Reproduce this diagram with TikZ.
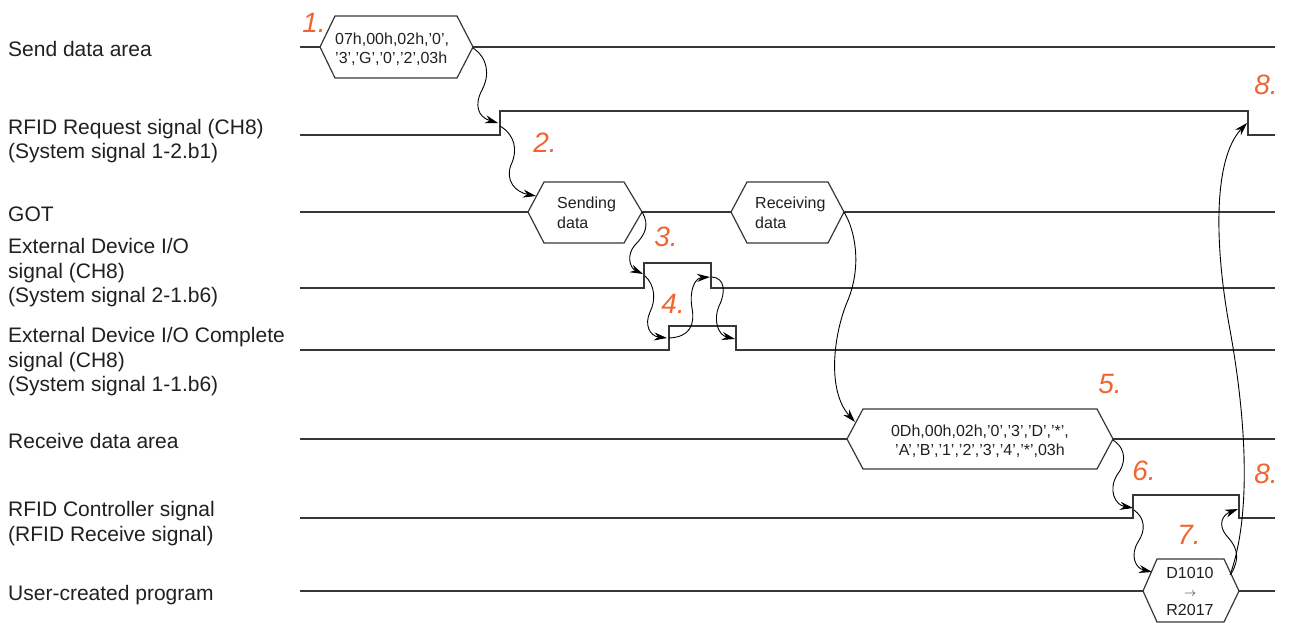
\documentclass[tikz,border=0pt]{standalone}
\usepackage{fontspec}
\setmainfont{Liberation Sans}
\usetikzlibrary{arrows.meta}
\definecolor{numorange}{RGB}{242,101,48}
\definecolor{wavecol}{RGB}{55,55,55}
\definecolor{txtcol}{RGB}{35,31,32}
\begin{document}
\begin{tikzpicture}[x=1pt,y=-1pt,
  wave/.style={draw=wavecol,line width=1.2pt,line join=miter},
  conn/.style={draw=black,line width=0.9pt,-{Stealth[length=13pt,width=8pt]}},
  lbl/.style={anchor=base west,inner sep=0pt,align=left,font=\fontsize{21}{24.5}\selectfont,text=txtcol},
  hextxt/.style={inner sep=0pt,font=\fontsize{16}{19.5}\selectfont,text=txtcol},
  stepnum/.style={anchor=base,inner sep=0pt,font=\fontsize{28}{28}\selectfont\itshape,text=numorange}]
\useasboundingbox (0,0) rectangle (1289,623);

% ---------- labels (base anchor = baseline of the last line) ----------
\node[lbl] (lsend) at (8,56.5) {Send data area};
\node[lbl] (lreq) at (8,158.5) {RFID Request signal (CH8)\\(System signal 1-2.b1)};
\node[lbl] (lgot) at (8,221.5) {GOT};
\node[lbl] (lext) at (8,302.5) {External Device I/O\\signal (CH8)\\(System signal 2-1.b6)};
\node[lbl] (lcmp) at (8,391.5) {External Device I/O Complete\\signal (CH8)\\(System signal 1-1.b6)};
\node[lbl] (lrcv) at (8,448) {Receive data area};
\node[lbl] (lctl) at (8,541) {RFID Controller signal\\(RFID Receive signal)};
\node[lbl] (lusr) at (8,600) {User-created program};

% ---------- Send data area ----------
\draw[wave] (300,47) -- (320,47);
\draw[wave] (320,47) -- (335,16) -- (457,16) -- (473,47) -- (457,78) -- (335,78) -- cycle;
\draw[wave] (473,47) -- (1275,47);
\node[hextxt,anchor=west,align=left] (hsend) at (335,49) {07h,00h,02h,'0',\\'3','G','0','2',03h};

% ---------- RFID Request ----------
\draw[wave] (300,135) -- (500,135) -- (500,111) -- (1248,111) -- (1248,135) -- (1275,135);

% ---------- GOT ----------
\draw[wave] (300,212) -- (528,212);
\draw[wave] (528,212) -- (544,182) -- (624,182) -- (642,212) -- (624,243) -- (544,243) -- cycle;
\draw[wave] (642,212) -- (731,212);
\draw[wave] (731,212) -- (747,182) -- (828,182) -- (844,212) -- (828,243) -- (747,243) -- cycle;
\draw[wave] (844,212) -- (1275,212);
\node[hextxt,anchor=west,align=left] (hsnd) at (557,213) {Sending\\data};
\node[hextxt,anchor=west,align=left] (hrcvg) at (755,213) {Receiving\\data};

% ---------- External Device I/O ----------
\draw[wave] (300,288) -- (644,288) -- (644,263) -- (711,263) -- (711,288) -- (1275,288);
% ---------- External Device I/O Complete ----------
\draw[wave] (300,350) -- (669,350) -- (669,326) -- (736,326) -- (736,350) -- (1275,350);

% ---------- Receive data area ----------
\draw[wave] (300,439) -- (847,439);
\draw[wave] (847,439) -- (863,409) -- (1097,409) -- (1113,439) -- (1097,469) -- (863,469) -- cycle;
\draw[wave] (1113,439) -- (1275,439);
\node[hextxt,align=center] (hrcv) at (980,441) {0Dh,00h,02h,'0','3','D','*',\\'A','B','1','2','3','4','*',03h};

% ---------- RFID Controller ----------
\draw[wave] (300,518) -- (1133,518) -- (1133,495) -- (1239,495) -- (1239,518) -- (1275,518);

% ---------- User-created program ----------
\draw[wave] (300,591) -- (1143,591);
\draw[wave] (1143,591) -- (1157,559) -- (1224,559) -- (1239,591) -- (1224,622) -- (1157,622) -- cycle;
\draw[wave] (1239,591) -- (1275,591);
\node[hextxt,align=center,font=\fontsize{16}{18.5}\selectfont] (husr) at (1190,591) {D1010\\{\fontsize{12}{12}\selectfont$\rightarrow$}\\R2017};

% ---------- step numbers ----------
\node[stepnum] (n1) at (314,33) {1.};
\node[stepnum] (n2) at (545,152) {2.};
\node[stepnum] (n3) at (666,246) {3.};
\node[stepnum] (n4) at (673,313) {4.};
\node[stepnum] (n5) at (1110,393) {5.};
\node[stepnum] (n6) at (1144,480) {6.};
\node[stepnum] (n7) at (1189,544) {7.};
\node[stepnum] (n8a) at (1266,95) {8.};
\node[stepnum] (n8b) at (1266,483) {8.};

% ---------- connector end points ----------
\coordinate (s1) at (473,48);   \coordinate (e1) at (498,123);
\coordinate (s2) at (500,126);  \coordinate (e2) at (536,196);
\coordinate (s3) at (642,212);  \coordinate (e3) at (643,274);
\coordinate (s4a) at (645,276); \coordinate (e4a) at (667,338);
\coordinate (s4b) at (669,338); \coordinate (e4b) at (710,277);
\coordinate (s4c) at (712,277); \coordinate (e4c) at (735,339);
\coordinate (s5) at (844,212);  \coordinate (e5) at (855,422);
\coordinate (s6) at (1113,440); \coordinate (e6) at (1133,508);
\coordinate (s7) at (1134,510); \coordinate (e7) at (1152,572);
\coordinate (s8a) at (1231,574); \coordinate (e8a) at (1238,509);
\coordinate (s8b) at (1230,575); \coordinate (e8b) at (1247,123);

% ---------- connectors ----------
\draw[conn] (s1) .. controls (488,58) and (490,75) .. (482,90) .. controls (474,105) and (478,117) .. (e1);
\draw[conn] (s2) .. controls (515,135) and (518,150) .. (511,165) .. controls (505,180) and (515,192) .. (e2);
\draw[conn] (s3) .. controls (650,225) and (645,235) .. (635,245) .. controls (626,255) and (630,268) .. (e3);
\draw[conn] (s4a) .. controls (655,285) and (656,300) .. (650,312) .. controls (644,325) and (650,336) .. (e4a);
\draw[conn] (s4b) .. controls (690,337) and (695,325) .. (692,308) .. controls (689,290) and (695,278) .. (e4b);
\draw[conn] (s4c) .. controls (725,278) and (726,292) .. (719,306) .. controls (713,320) and (718,335) .. (e4c);
\draw[conn] (s5) .. controls (855,230) and (862,265) .. (848,300) .. controls (834,332) and (826,390) .. (e5);
\draw[conn] (s6) .. controls (1128,450) and (1125,465) .. (1117,475) .. controls (1108,490) and (1115,505) .. (e6);
\draw[conn] (s7) .. controls (1145,518) and (1146,530) .. (1138,542) .. controls (1130,555) and (1135,568) .. (e7);
\draw[conn] (s8a) .. controls (1242,555) and (1235,545) .. (1226,535) .. controls (1218,525) and (1222,515) .. (e8a);
\draw[conn] (s8b) .. controls (1250,520) and (1248,430) .. (1230,330) .. controls (1215,250) and (1212,160) .. (e8b);
\end{tikzpicture}
\end{document}
